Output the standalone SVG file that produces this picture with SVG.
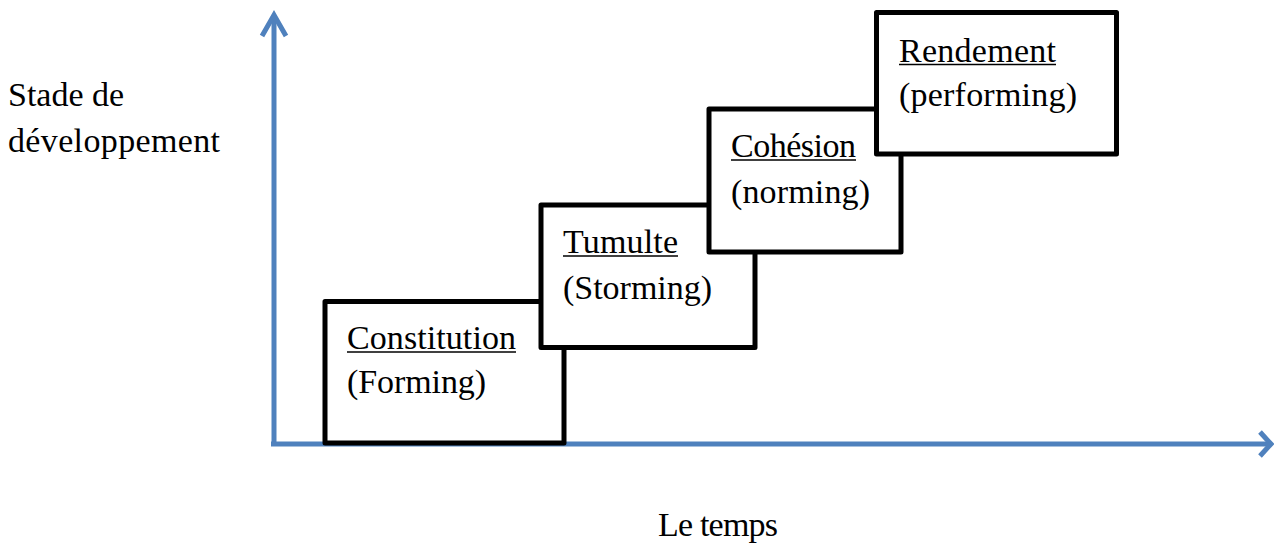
<svg xmlns="http://www.w3.org/2000/svg" width="1274" height="544" viewBox="0 0 1274 544">
<style>
.axis{stroke:#4F81BD;stroke-width:5;fill:none;stroke-linecap:butt}
.head{stroke:#4F81BD;stroke-width:5;fill:none;stroke-linejoin:miter}
.box{fill:#fff;stroke:#000;stroke-width:5;stroke-linejoin:round}
.ul{stroke:#000;stroke-width:1.5}
text{font-family:"Liberation Serif","Times New Roman",serif;font-size:34px;fill:#000}
</style>
<rect width="1274" height="544" fill="#fff"/>
<g id="connectors">
<line class="axis" x1="274" y1="446" x2="274" y2="16"/>
<polyline class="head" points="262,36 274,15 286,36"/>
<line class="axis" x1="271" y1="444" x2="1270" y2="444"/>
<polyline class="head" points="1260,432 1271,444 1260,456"/>
</g>
<g id="label-y">
<text x="8" y="106">Stade de</text>
<text x="8" y="152" textLength="212" lengthAdjust="spacing">développement</text>
</g>
<g id="label-x">
<text x="658" y="536" textLength="120" lengthAdjust="spacing">Le temps</text>
</g>
<g id="forming">
<rect class="box" x="325" y="301.5" width="239" height="141.5"/>
<text x="347" y="349" textLength="169" lengthAdjust="spacing">Constitution</text>
<line class="ul" x1="347" y1="352" x2="516" y2="352"/>
<text x="347" y="393" textLength="139" lengthAdjust="spacing">(Forming)</text>
</g>
<g id="storming">
<rect class="box" x="541" y="205" width="214" height="142.5"/>
<text x="563" y="253" textLength="115" lengthAdjust="spacing">Tumulte</text>
<line class="ul" x1="563" y1="256" x2="678" y2="256"/>
<text x="563" y="299" textLength="149" lengthAdjust="spacing">(Storming)</text>
</g>
<g id="norming">
<rect class="box" x="709" y="109" width="192" height="143"/>
<text x="731" y="157" textLength="125" lengthAdjust="spacing">Cohésion</text>
<line class="ul" x1="731" y1="160" x2="856" y2="160"/>
<text x="731" y="203" textLength="139" lengthAdjust="spacing">(norming)</text>
</g>
<g id="performing">
<rect class="box" x="876.5" y="12.5" width="240" height="141.5"/>
<text x="899" y="62" textLength="157" lengthAdjust="spacing">Rendement</text>
<line class="ul" x1="899" y1="64.5" x2="1056" y2="64.5"/>
<text x="899" y="106" textLength="178" lengthAdjust="spacing">(performing)</text>
</g>
</svg>
